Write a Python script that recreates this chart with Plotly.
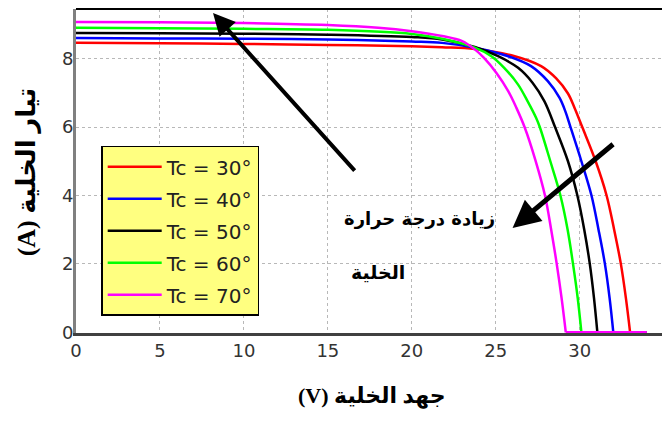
import plotly.graph_objects as go

# ---- data ----
labels = ["Tc = 30°", "Tc = 40°", "Tc = 50°", "Tc = 60°", "Tc = 70°"]
colors = ["#ff0000", "#0000ff", "#000000", "#00ff00", "#ff00ff"]

v_30 = [0, 5, 10, 15, 20, 21.8, 23.75, 26.13, 27.7, 28.6, 29.3, 29.7, 30.15, 30.95, 31.6, 32.05, 32.45, 32.75, 33.0]
i_30 = [8.46, 8.45, 8.43, 8.40, 8.36, 8.33, 8.28, 8.07, 7.78, 7.42, 6.98, 6.55, 6.0, 5.0, 4.0, 3.0, 2.0, 1.0, 0]

v_40 = [0, 5, 10, 15, 20, 21.8, 23.75, 25.74, 27.1, 28.1, 28.8, 29.15, 29.45, 30.1, 30.7, 31.12, 31.5, 31.78, 32.0]
i_40 = [8.60, 8.59, 8.58, 8.56, 8.50, 8.46, 8.32, 8.07, 7.78, 7.34, 6.85, 6.45, 6.0, 5.0, 4.0, 3.0, 2.0, 1.0, 0]

v_50 = [0, 5, 10, 15, 20, 21.8, 23.75, 25.14, 26.33, 27.2, 27.9, 28.53, 29.3, 29.86, 30.27, 30.6, 30.85, 31.05]
i_50 = [8.75, 8.74, 8.73, 8.70, 8.63, 8.56, 8.34, 8.07, 7.73, 7.29, 6.75, 6.0, 5.0, 4.0, 3.0, 2.0, 1.0, 0]

v_60 = [0, 5, 10, 15, 20, 21.8, 23.75, 24.74, 25.5, 26.33, 26.9, 27.4, 27.62, 28.25, 28.85, 29.28, 29.6, 29.88, 30.1]
i_60 = [8.90, 8.89, 8.87, 8.84, 8.72, 8.58, 8.32, 8.07, 7.73, 7.24, 6.75, 6.27, 6.0, 5.0, 4.0, 3.0, 2.0, 1.0, 0]

v_70 = [0, 5, 10, 15, 18, 20, 21.8, 23.0, 23.75, 24.3, 25.04, 25.74, 26.23, 26.73, 27.35, 27.93, 28.3, 28.63, 28.92, 29.17]
i_70 = [9.07, 9.06, 9.04, 8.98, 8.90, 8.80, 8.66, 8.51, 8.27, 8.02, 7.58, 7.05, 6.56, 5.98, 5.05, 4.0, 3.0, 2.0, 1.0, 0]

v_end = 34.0  # curves continue along I = 0 up to here

series_v = [v_30, v_40, v_50, v_60, v_70]
series_i = [i_30, i_40, i_50, i_60, i_70]

x_ticks = [0, 5, 10, 15, 20, 25, 30, 35]
y_ticks = [0, 2, 4, 6, 8]

x_title = "(V) جهد الخلية"
y_title = "(A) تيار الخلية"
note_line1 = "زيادة درجة حرارة"
note_line2 = "الخلية"

# ---- figure ----
fig = go.Figure()
for k in range(len(labels)):
    fig.add_trace(go.Scatter(
        x=series_v[k], y=series_i[k], mode="lines", name=labels[k],
        legendgroup=labels[k],
        line=dict(color=colors[k], width=2.5, shape="spline", smoothing=1.0),
    ))
for k in range(len(labels)):
    fig.add_trace(go.Scatter(
        x=[series_v[k][-1], v_end], y=[series_i[k][-1], series_i[k][-1]],
        mode="lines", legendgroup=labels[k], showlegend=False, hoverinfo="skip",
        line=dict(color=colors[k], width=2.5),
    ))

W, H = 662, 422
L, R, T, B = 76, 0, 9, 89
fig.update_layout(
    width=W, height=H,
    margin=dict(l=L, r=R, t=T, b=B),
    paper_bgcolor="white", plot_bgcolor="white",
    showlegend=True,
    legend=dict(
        x=0.043, y=0.578, xanchor="left", yanchor="top",
        bgcolor="#ffff80", bordercolor="#000000", borderwidth=1.5,
        font=dict(family="DejaVu Sans", size=20, color="#222222"),
        tracegroupgap=3, traceorder="grouped",
        itemwidth=54,
    ),
)
fig.update_xaxes(
    range=[0, 34.9], tickvals=x_ticks, ticktext=[str(t) for t in x_ticks],
    showgrid=True, gridcolor="#b8b8b8", griddash="dot", gridwidth=1,
    zeroline=False, showline=True, linecolor="#404040", linewidth=2.5,
    layer="below traces",
    ticks="", tickfont=dict(family="DejaVu Sans", size=18, color="#333333"),
)
fig.update_yaxes(
    range=[-0.02, 9.45], tickvals=y_ticks, ticktext=[str(t) for t in y_ticks],
    showgrid=True, gridcolor="#b8b8b8", griddash="dot", gridwidth=1,
    zeroline=False, showline=True, linecolor="#808080", linewidth=3,
    layer="below traces",
    ticks="", ticklabelstandoff=-4,
    tickfont=dict(family="DejaVu Sans", size=18, color="#333333"),
)

# top frame line
fig.add_shape(type="line", xref="paper", yref="paper", x0=0, x1=1, y0=1, y1=1,
              line=dict(color="#000000", width=2))

# axis titles (RTL text)
fig.add_annotation(text="<b>" + y_title + "</b>", xref="paper", yref="paper",
                   x=-0.083, y=0.497, xanchor="center", yanchor="middle",
                   showarrow=False, textangle=-90,
                   font=dict(family="Liberation Serif, DejaVu Sans", size=26, color="#000000"))
fig.add_annotation(text="<b>" + x_title + "</b>", xref="paper", yref="paper",
                   x=0.505, y=-0.194, xanchor="center", yanchor="middle", showarrow=False,
                   font=dict(family="Liberation Serif, DejaVu Sans", size=22, color="#000000"))

# arrows
fig.add_annotation(x=8.16, y=9.33, xref="x", yref="y", ax=143, ay=159, text="",
                   showarrow=True, arrowhead=2, arrowsize=1.1, arrowwidth=4, arrowcolor="#000000")
fig.add_annotation(x=26.0, y=3.05, xref="x", yref="y", ax=102, ay=-85, text="",
                   showarrow=True, arrowhead=2, arrowsize=1.1, arrowwidth=5, arrowcolor="#000000")

# arrow notes
fig.add_annotation(text="<b>" + note_line1 + "</b>", x=20.45, y=3.30, xref="x", yref="y",
                   xanchor="center", yanchor="middle",
                   showarrow=False, font=dict(family="DejaVu Sans", size=18, color="#000000"))
fig.add_annotation(text="<b>" + note_line2 + "</b>", x=17.99, y=1.75, xref="x", yref="y",
                   xanchor="center", yanchor="middle",
                   showarrow=False, font=dict(family="DejaVu Sans", size=19, color="#000000"))

fig.write_html("out.html", config={"displayModeBar": False},
               post_script="document.body.style.margin='0';document.body.style.overflow='hidden';")
